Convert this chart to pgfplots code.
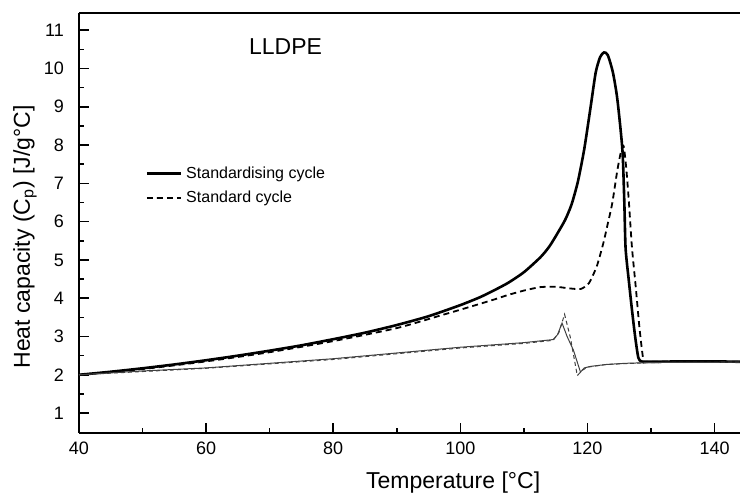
\documentclass[border=0pt]{standalone}
\usepackage{fontspec}
\setmainfont{Liberation Sans}
\usepackage{pgfplots}
\pgfplotsset{compat=1.18}
\begin{document}
\begin{tikzpicture}
\begin{axis}[
  name=ax,
  scale only axis,
  width=330.5pt, height=210pt,
  xmin=40, xmax=144, ymin=0.48, ymax=11.45,
  xtick={40,60,80,100,120,140},
  ytick={1,2,3,4,5,6,7,8,9,10,11},
  minor x tick num=1, minor y tick num=1,
  axis x line*=bottom, axis y line*=left,
  axis line style={-, line width=1pt},
  tick style={black, line width=0.8pt},
  major tick length=5pt, minor tick length=2.5pt,
  tick align=inside,
  /pgf/number format/assume math mode=true,
  tick label style={font=\fontsize{9}{10}\selectfont},
  yticklabel style={xshift=-4pt},
  xticklabel style={yshift=-1pt},
  xlabel={Temperature [°C]},
  ylabel={Heat capacity (C\textsubscript{p}) [J/g°C]},
  every axis x label/.style={at={(axis description cs:0.566,-0.119)}, anchor=center, font=\fontsize{11.5}{13}\selectfont},
  every axis y label/.style={at={(axis description cs:-0.0817,0.467)}, rotate=90, anchor=center, font=\fontsize{11.5}{13}\selectfont},
  legend style={at={(rel axis cs:0.10,0.645)}, anchor=north west, draw=none, fill=none,
    font=\fontsize{8}{9}\selectfont, row sep=1pt, inner sep=0pt},
  legend cell align=left,
]
\addplot[black, line width=1.3pt, smooth, tension=0.4] coordinates {
(40,2.00) (45,2.08) (50,2.17) (55,2.27) (60,2.38) (65,2.50) (70,2.63) (75,2.77)
(80,2.93) (85,3.10) (90,3.30) (95,3.53) (100,3.82) (103,4.02) (105,4.18) (107.5,4.40)
(110,4.68) (112.6,5.07) (114,5.35) (115.3,5.70) (116.5,6.05) (117.5,6.45) (118.5,7.05)
(119.5,7.9) (120.5,9.0) (121.3,9.9) (122,10.3) (122.6,10.42) (123.2,10.35) (124,9.9)
(124.7,9.2) (125.5,7.87) (125.8,6.5) (126,5.3) (126.5,4.47) (127,3.7) (127.5,3.0)
(128,2.45) (128.5,2.35) (130,2.34) (135,2.35) (140,2.35) (144,2.34)
};
\addlegendentry{Standardising cycle}
\addplot[black, line width=0.9pt, dash pattern=on 3pt off 2pt, smooth, tension=0.4] coordinates {
(40,2.00) (50,2.15) (60,2.35) (70,2.59) (80,2.88) (90,3.22) (96.9,3.55) (100,3.70)
(105,3.95) (107.4,4.08) (110,4.20) (112.6,4.29) (115,4.30) (117,4.26) (118.9,4.24)
(120,4.35) (120.5,4.47) (121.5,4.85) (122.5,5.44) (123.2,5.95) (123.9,6.48) (124.7,7.34)
(125.3,7.85) (125.7,7.97) (126.1,7.4) (126.5,6.56) (127,5.33) (127.6,4.29) (128.2,3.2)
(128.8,2.38) (129.3,2.34) (135,2.35) (144,2.34)
};
\addlegendentry{Standard cycle}
\addplot[black!75, line width=0.5pt, forget plot] coordinates {
(40,2.00) (50,2.10) (60,2.18) (70,2.30) (80,2.42) (90,2.57) (100,2.72) (105,2.78)
(110,2.84) (114.6,2.92) (115.3,3.05) (116,3.35) (116.8,3.0) (117.8,2.64) (118.9,2.07)
(119.5,2.18) (120.5,2.22) (123,2.27) (126,2.30) (130,2.32) (144,2.33)
};
\addplot[black!75, line width=0.5pt, dash pattern=on 2pt off 1.5pt, forget plot] coordinates {
(40,2.00) (60,2.17) (80,2.40) (100,2.70) (110,2.82) (114.6,2.90) (115.5,3.1)
(116.4,3.58) (117.3,2.98) (118.4,1.98) (119.2,2.12) (120,2.2) (123,2.27) (130,2.32) (144,2.33)
};
\node[font=\fontsize{11.5}{13}\selectfont] at (axis cs:72.5,10.56) {LLDPE};
\end{axis}
\draw[line width=1pt] (ax.north west) -- (ax.north east);
\pgfresetboundingbox
\path (ax.south west) ++(-39.5pt,-31.5pt) coordinate (bl);
\path (ax.north east) ++(0pt,6.5pt) coordinate (tr);
\path[use as bounding box] (bl) rectangle (tr);
\end{tikzpicture}
\end{document}
